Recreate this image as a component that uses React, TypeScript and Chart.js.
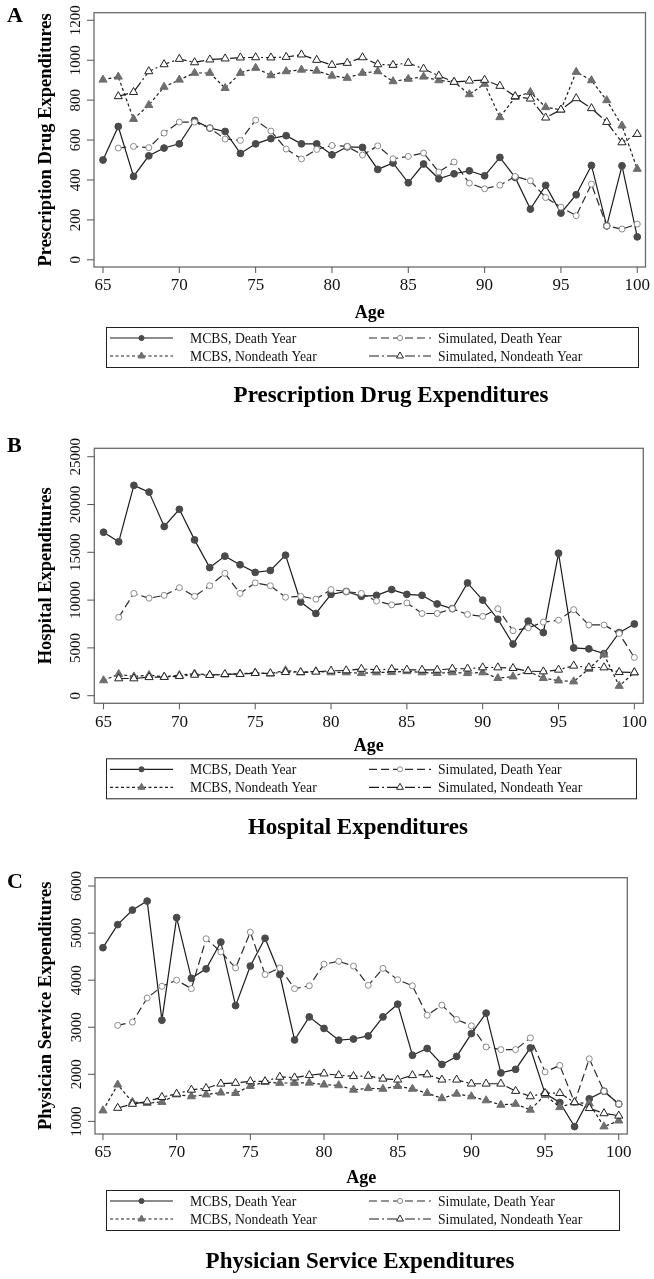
import React, { useEffect, useRef } from "react";
import { Chart, registerables } from "chart.js";

Chart.register(...registerables);

// ---------- data ----------
const ages = [65, 66, 67, 68, 69, 70, 71, 72, 73, 74, 75, 76, 77, 78, 79, 80, 81, 82, 83, 84, 85, 86, 87, 88, 89, 90, 91, 92, 93, 94, 95, 96, 97, 98, 99, 100];
const xTickValues = [65, 70, 75, 80, 85, 90, 95, 100];

const seriesNames = ["MCBS, Death Year", "Simulated, Death Year", "MCBS, Nondeath Year", "Simulated, Nondeath Year"];
const seriesNamesC = ["MCBS, Death Year", "Simulate, Death Year", "MCBS, Nondeath Year", "Simulated, Nondeath Year"];

// Panel A: Prescription drug
const drugYTicks = [0, 200, 400, 600, 800, 1000, 1200];
const drugMcbsDeath = [500, 668, 418, 521, 560, 581, 698, 660, 643, 533, 581, 607, 622, 581, 581, 526, 566, 563, 453, 485, 386, 480, 406, 431, 446, 421, 513, 413, 254, 373, 234, 326, 473, 170, 471, 115];
const drugSimDeath = [null, 560, 568, 562, 635, 690, 690, 660, 605, 598, 700, 645, 555, 505, 553, 573, 568, 525, 571, 506, 518, 535, 440, 490, 384, 356, 374, 418, 396, 312, 264, 221, 379, 170, 154, 179];
const drugMcbsNondeath = [902, 917, 705, 775, 866, 902, 936, 936, 860, 936, 961, 924, 944, 952, 947, 922, 911, 936, 944, 894, 906, 917, 899, 891, 829, 881, 714, 815, 840, 764, 752, 941, 899, 799, 672, 455];
const drugSimNondeath = [null, 819, 840, 944, 979, 1006, 989, 1003, 1008, 1013, 1014, 1013, 1016, 1028, 1001, 976, 986, 1014, 979, 976, 986, 957, 922, 891, 897, 901, 871, 819, 807, 712, 752, 809, 759, 690, 588, 630];

// Panel B: Hospital
const hospYTicks = [0, 5000, 10000, 15000, 20000, 25000];
const hospMcbsDeath = [17100, 16100, 22000, 21300, 17700, 19500, 16300, 13400, 14600, 13700, 12900, 13100, 14700, 9800, 8600, 10600, 10900, 10400, 10500, 11100, 10600, 10500, 9600, 9100, 11800, 10000, 8000, 5400, 7800, 6600, 14900, 5000, 4900, 4400, 6600, 7500];
const hospSimDeath = [null, 8200, 10700, 10200, 10500, 11300, 10400, 11500, 12800, 10700, 11800, 11500, 10300, 10400, 10100, 11100, 10900, 10700, 9900, 9500, 9700, 8600, 8600, 9100, 8500, 8300, 9100, 6800, 7100, 7700, 7900, 9000, 7400, 7400, 6500, 4000];
const hospMcbsNondeath = [1600, 2250, 2000, 2150, 1970, 2150, 2300, 2180, 2200, 2300, 2400, 2300, 2650, 2430, 2550, 2430, 2430, 2350, 2430, 2450, 2550, 2430, 2350, 2430, 2350, 2430, 1830, 2000, 2550, 1830, 1580, 1480, 2800, 4300, 1020, 2430];
const hospSimNondeath = [null, 1800, 1800, 1930, 1950, 2040, 2180, 2150, 2250, 2250, 2360, 2330, 2460, 2450, 2500, 2600, 2640, 2800, 2710, 2780, 2710, 2700, 2700, 2820, 2820, 2950, 2950, 2880, 2570, 2530, 2710, 3130, 2950, 2950, 2460, 2430];

// Panel C: Physician service
const physYTicks = [1000, 2000, 3000, 4000, 5000, 6000];
const physMcbsDeath = [4690, 5180, 5490, 5680, 3150, 5330, 4040, 4240, 4810, 3460, 4300, 4890, 4120, 2730, 3220, 2975, 2725, 2750, 2815, 3220, 3490, 2405, 2550, 2210, 2380, 2865, 3300, 2030, 2105, 2560, 1590, 1400, 890, 1480, 1640, 1370];
const physSimDeath = [null, 3040, 3110, 3620, 3870, 4000, 3820, 4880, 4600, 4260, 5020, 4120, 4260, 3820, 3880, 4340, 4400, 4300, 3890, 4250, 4010, 3880, 3255, 3470, 3165, 3030, 2580, 2525, 2525, 2775, 2050, 2190, 1400, 2330, 1640, 1370];
const physMcbsNondeath = [1230, 1780, 1410, 1390, 1410, 1570, 1530, 1570, 1610, 1600, 1750, 1835, 1815, 1815, 1820, 1780, 1765, 1670, 1705, 1690, 1750, 1690, 1600, 1490, 1585, 1530, 1445, 1350, 1370, 1245, 1560, 1300, 1400, 1380, 890, 1015];
const physSimNondeath = [null, 1285, 1370, 1420, 1515, 1585, 1670, 1705, 1800, 1815, 1850, 1850, 1945, 1930, 1980, 2015, 1980, 1960, 1965, 1905, 1885, 1980, 1995, 1885, 1885, 1800, 1800, 1800, 1645, 1530, 1600, 1600, 1405, 1280, 1170, 1120];

// ---------- styles ----------
const SERIF = "'Liberation Serif', 'Times New Roman', Times, serif";

type SeriesStyle = {
  line: string;
  dash: number[];
  shape: "circle" | "triangle";
  radius: number;
  fill: string;
  stroke: string;
};

const seriesStyles: SeriesStyle[] = [
  { line: "#1c1c1c", dash: [], shape: "circle", radius: 3.4, fill: "#4a4a4a", stroke: "#4a4a4a" },
  { line: "#2a2a2a", dash: [8, 4], shape: "circle", radius: 3, fill: "#ffffff", stroke: "#8a8a8a" },
  { line: "#1c1c1c", dash: [3, 2.5], shape: "triangle", radius: 4.7, fill: "#6e6e6e", stroke: "#6e6e6e" },
  { line: "#1c1c1c", dash: [10, 3, 2, 3], shape: "triangle", radius: 4.7, fill: "#ffffff", stroke: "#222222" },
];

type Panel = {
  key: string;
  top: number;
  height: number;
  frame: { left: number; top: number; right: number; bottom: number };
  xMin: number;
  xMax: number;
  yMin: number;
  yMax: number;
  yTicks: number[];
  series: (number | null)[][];
  names: string[];
  letter: string;
  letterY: number;
  yTitle: string;
  title: string;
  titleX: number;
  titleY: number;
  ageOffset: number;
  legendOffset: number;
  legendLeft: number;
  legendRight: number;
};

const panels: Panel[] = [
  {
    key: "A", top: 0, height: 420,
    frame: { left: 94, top: 12.7, right: 645.5, bottom: 267 },
    xMin: 64.41, xMax: 100.54, yMin: -36, yMax: 1238,
    yTicks: drugYTicks,
    series: [drugMcbsDeath, drugSimDeath, drugMcbsNondeath, drugSimNondeath],
    names: seriesNames,
    letter: "A", letterY: 16,
    yTitle: "Prescription Drug Expenditures",
    title: "Prescription Drug Expenditures", titleX: 391, titleY: 396,
    ageOffset: 46, legendOffset: 60,
    legendLeft: 106, legendRight: 638,
  },
  {
    key: "B", top: 420, height: 432,
    frame: { left: 94.3, top: 28.3, right: 643.3, bottom: 283.3 },
    xMin: 64.39, xMax: 100.59, yMin: -795, yMax: 25880,
    yTicks: hospYTicks,
    series: [hospMcbsDeath, hospSimDeath, hospMcbsNondeath, hospSimNondeath],
    names: seriesNames,
    letter: "B", letterY: 26,
    yTitle: "Hospital Expenditures",
    title: "Hospital Expenditures", titleX: 358, titleY: 408,
    ageOffset: 43, legendOffset: 55,
    legendLeft: 106, legendRight: 636,
  },
  {
    key: "C", top: 852, height: 427,
    frame: { left: 95, top: 25.7, right: 627.3, bottom: 282 },
    xMin: 64.46, xMax: 100.58, yMin: 732, yMax: 6177,
    yTicks: physYTicks,
    series: [physMcbsDeath, physSimDeath, physMcbsNondeath, physSimNondeath],
    names: seriesNamesC,
    letter: "C", letterY: 30,
    yTitle: "Physician Service Expenditures",
    title: "Physician Service Expenditures", titleX: 360, titleY: 410,
    ageOffset: 44, legendOffset: 56,
    legendLeft: 106, legendRight: 619,
  },
];

function drawMarker(ctx: CanvasRenderingContext2D, s: SeriesStyle, x: number, y: number) {
  ctx.save();
  ctx.setLineDash([]);
  ctx.beginPath();
  if (s.shape === "circle") {
    ctx.arc(x, y, s.radius, 0, Math.PI * 2);
  } else {
    const r = s.radius;
    for (let k = 0; k < 3; k++) {
      const a = (k * 2 * Math.PI) / 3;
      const px = x + Math.sin(a) * r;
      const py = y - Math.cos(a) * r;
      if (k === 0) ctx.moveTo(px, py);
      else ctx.lineTo(px, py);
    }
    ctx.closePath();
  }
  ctx.fillStyle = s.fill;
  ctx.fill();
  ctx.lineWidth = 1;
  ctx.strokeStyle = s.stroke;
  ctx.stroke();
  ctx.restore();
}

function makeDecorPlugin(p: Panel) {
  return {
    id: "decor" + p.key,
    afterDraw(chart: any) {
      const ctx: CanvasRenderingContext2D = chart.ctx;
      const ca = chart.chartArea;
      const xs = chart.scales.x;
      const ys = chart.scales.y;
      ctx.save();
      // frame
      ctx.strokeStyle = "#6a6a6a";
      ctx.lineWidth = 1.3;
      ctx.setLineDash([]);
      ctx.strokeRect(ca.left, ca.top, ca.right - ca.left, ca.bottom - ca.top);

      // x ticks
      ctx.strokeStyle = "#555";
      ctx.lineWidth = 1;
      ctx.fillStyle = "#111";
      ctx.font = `17px ${SERIF}`;
      ctx.textAlign = "center";
      ctx.textBaseline = "middle";
      for (const v of xTickValues) {
        const px = xs.getPixelForValue(v);
        ctx.beginPath();
        ctx.moveTo(px, ca.bottom);
        ctx.lineTo(px, ca.bottom + 6);
        ctx.stroke();
        ctx.fillText(String(v), px, ca.bottom + 19);
      }
      // y ticks (rotated labels)
      ctx.font = `15px ${SERIF}`;
      for (const v of p.yTicks) {
        const py = ys.getPixelForValue(v);
        ctx.beginPath();
        ctx.moveTo(ca.left - 7, py);
        ctx.lineTo(ca.left, py);
        ctx.stroke();
        ctx.save();
        ctx.translate(ca.left - 18, py);
        ctx.rotate(-Math.PI / 2);
        ctx.fillText(String(v), 0, 0);
        ctx.restore();
      }
      // y title
      ctx.font = `bold 18.5px ${SERIF}`;
      ctx.save();
      ctx.translate(46, (ca.top + ca.bottom) / 2);
      ctx.rotate(-Math.PI / 2);
      ctx.fillStyle = "#000";
      ctx.fillText(p.yTitle, 0, 0);
      ctx.restore();
      // x title
      ctx.fillStyle = "#000";
      ctx.font = `bold 18px ${SERIF}`;
      ctx.fillText("Age", (ca.left + ca.right) / 2, ca.bottom + p.ageOffset);
      // panel letter
      ctx.font = `bold 22px ${SERIF}`;
      ctx.textAlign = "left";
      ctx.fillText(p.letter, 7, p.letterY);

      // legend
      const boxTop = ca.bottom + p.legendOffset;
      const boxH = 40;
      ctx.strokeStyle = "#222";
      ctx.lineWidth = 1;
      ctx.strokeRect(p.legendLeft + 0.5, boxTop + 0.5, p.legendRight - p.legendLeft, boxH);
      const rows = [boxTop + 11, boxTop + 29];
      const cols = [
        { x0: p.legendLeft + 4, x1: p.legendLeft + 67, tx: p.legendLeft + 84 },
        { x0: 369, x1: 431, tx: 438 },
      ];
      const order = [
        { s: 0, r: 0, c: 0 },
        { s: 1, r: 0, c: 1 },
        { s: 2, r: 1, c: 0 },
        { s: 3, r: 1, c: 1 },
      ];
      ctx.font = `13.7px ${SERIF}`;
      ctx.textBaseline = "middle";
      for (const o of order) {
        const st = seriesStyles[o.s];
        const y = rows[o.r];
        const c = cols[o.c];
        ctx.save();
        ctx.strokeStyle = st.line;
        ctx.lineWidth = 1.2;
        ctx.setLineDash(st.dash);
        ctx.beginPath();
        ctx.moveTo(c.x0, y);
        ctx.lineTo(c.x1, y);
        ctx.stroke();
        ctx.restore();
        drawMarker(ctx, { ...st, radius: st.shape === "circle" ? 2.6 : 4 }, (c.x0 + c.x1) / 2, y);
        ctx.fillStyle = "#111";
        ctx.textAlign = "left";
        ctx.fillText(p.names[o.s], c.tx, y + 1);
      }

      // bottom title
      ctx.fillStyle = "#000";
      ctx.font = `bold 23px ${SERIF}`;
      ctx.textAlign = "center";
      ctx.textBaseline = "middle";
      ctx.fillText(p.title, p.titleX, p.titleY);
      ctx.restore();
    },
  };
}

function PanelChart({ p }: { p: Panel }) {
  const ref = useRef<HTMLCanvasElement | null>(null);
  useEffect(() => {
    if (!ref.current) return;
    const W = 654;
    const datasets = p.series.map((vals, si) => {
      const st = seriesStyles[si];
      const pts = ages
        .map((a, i) => ({ x: a, y: vals[i] }))
        .filter((d) => d.y !== null && d.y !== undefined);
      return {
        label: p.names[si],
        data: pts,
        borderColor: st.line,
        borderWidth: 1.2,
        borderDash: st.dash,
        pointStyle: st.shape,
        pointRadius: st.radius,
        pointBackgroundColor: st.fill,
        pointBorderColor: st.stroke,
        pointBorderWidth: 1,
        tension: 0,
        fill: false,
        order: 4 - si,
      };
    });
    const chart = new Chart(ref.current, {
      type: "line",
      data: { datasets } as any,
      options: {
        responsive: false,
        animation: false,
        devicePixelRatio: 1,
        events: [],
        layout: {
          padding: {
            left: p.frame.left,
            top: p.frame.top,
            right: W - p.frame.right,
            bottom: p.height - p.frame.bottom,
          },
        },
        plugins: { legend: { display: false }, tooltip: { enabled: false }, title: { display: false } },
        scales: {
          x: { type: "linear", min: p.xMin, max: p.xMax, display: false },
          y: { type: "linear", min: p.yMin, max: p.yMax, display: false },
        },
      },
      plugins: [makeDecorPlugin(p)],
    } as any);
    return () => chart.destroy();
  }, [p]);
  return (
    <canvas
      ref={ref}
      width={654}
      height={p.height}
      style={{ position: "absolute", left: 0, top: p.top, width: 654, height: p.height }}
    />
  );
}

export default function App() {
  return (
    <div style={{ position: "absolute", left: 0, top: 0, width: 654, height: 1279, background: "#fff" }}>
      {panels.map((p) => (
        <PanelChart key={p.key} p={p} />
      ))}
    </div>
  );
}
